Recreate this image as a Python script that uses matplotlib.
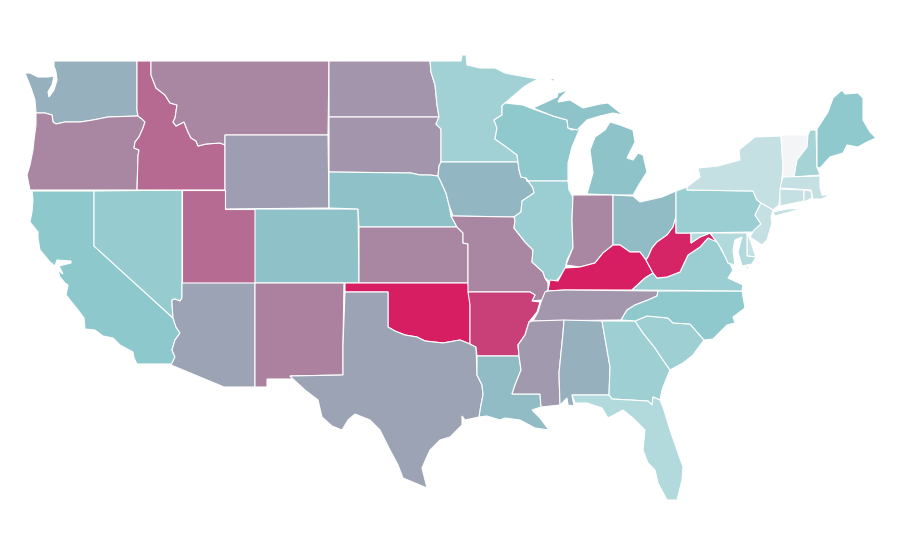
import matplotlib
matplotlib.use("Agg")
import matplotlib.pyplot as plt
from matplotlib.colors import LinearSegmentedColormap, Normalize
from matplotlib.patches import Polygon

# state index
states = ["WA", "OR", "CA", "NV", "ID", "MT", "WY", "UT", "CO", "AZ", "NM", "ND", "SD", "NE", "KS",
          "OK", "TX", "MN", "IA", "MO", "AR", "LA", "WI", "IL", "MI", "IN", "OH", "KY", "TN", "MS",
          "AL", "GA", "FL", "SC", "NC", "VA", "WV", "PA", "NY", "VT", "NH", "ME", "MA", "CT", "RI",
          "NJ", "DE", "MD"]
values = [40, 57, 30, 27, 69, 57, 48, 68, 33, 45, 59, 51, 51, 33, 57,
          100, 45, 24, 37, 57, 86, 35, 29, 26, 32, 57, 35, 100, 50, 49,
          40, 25, 19, 25, 29, 26, 97, 26, 14, 0, 23, 29, 14, 14, 14,
          14, 14, 19]

outlines = {
    "WA": [[(54, 61), (137, 61), (137, 110), (138, 116), (108, 117), (93, 120), (80, 122), (65, 122), (56, 124),
            (53, 122), (52, 115), (45, 113), (36, 113), (35, 100), (31, 88), (25, 73), (30, 73), (38, 77), (48, 77),
            (54, 76), (52, 85), (48, 92), (49, 97), (54, 90), (57, 80), (56, 72), (54, 66)]],
    "OR": [[(36, 113), (45, 113), (52, 115), (53, 122), (56, 124), (65, 122), (80, 122), (93, 120), (108, 117),
            (138, 116), (142, 119), (145, 122), (143, 128), (139, 137), (135, 142), (134, 148), (139, 150), (138, 156),
            (137, 190), (30, 190), (29, 185), (27, 175), (30, 165), (33, 150), (34, 140), (36, 125)]],
    "CA": [[(32, 191), (94, 191), (94, 246), (173, 318), (176, 327), (180, 333), (175, 340), (172, 350), (175, 357),
            (172, 364), (137, 364), (134, 358), (133, 352), (120, 345), (113, 338), (103, 336), (95, 330), (85, 329),
            (84, 318), (78, 310), (66, 295), (68, 285), (65, 283), (60, 277), (58, 270), (63, 274), (59, 266), (71, 263),
            (71, 261), (57, 260), (55, 266), (50, 262), (40, 250), (38, 238), (38, 232), (30, 222), (32, 212), (33, 200)]],
    "NV": [[(94, 191), (182, 190), (182, 298), (180, 301), (175, 299), (172, 300), (172, 303), (173, 318), (94, 246)]],
    "ID": [[(137, 61), (151, 61), (151, 75), (156, 88), (165, 95), (170, 103), (177, 105), (175, 118), (173, 122),
            (176, 126), (184, 122), (188, 132), (191, 138), (196, 141), (198, 146), (206, 144), (220, 143), (225, 145),
            (225, 190), (137, 190), (138, 156), (139, 150), (134, 148), (135, 142), (139, 137), (143, 128), (145, 122),
            (142, 119), (138, 116), (137, 110)]],
    "MT": [[(151, 61), (329, 61), (328, 135), (225, 135), (225, 145), (220, 143), (206, 144), (198, 146), (196, 141),
            (191, 138), (188, 132), (184, 122), (176, 126), (173, 122), (175, 118), (177, 105), (170, 103), (165, 95),
            (156, 88), (151, 75)]],
    "WY": [[(225, 135), (328, 135), (329, 208), (225, 209)]],
    "UT": [[(182, 190), (225, 190), (225, 209), (255, 209), (255, 283), (182, 283)]],
    "CO": [[(255, 209), (358, 209), (359, 283), (255, 283)]],
    "AZ": [[(182, 283), (255, 283), (255, 387), (224, 387), (171, 365), (175, 357), (172, 350), (175, 340), (180, 333),
            (176, 327), (173, 318), (172, 303), (172, 300), (175, 299), (180, 301), (182, 298)]],
    "NM": [[(255, 283), (344, 283), (343, 345), (343, 375), (290, 376), (293, 379), (267, 379), (267, 387), (255, 387)]],
    "ND": [[(329, 61), (430, 61), (431, 72), (435, 85), (437, 105), (439, 117), (329, 117)]],
    "SD": [[(329, 117), (439, 117), (436, 124), (441, 129), (441, 162), (439, 166), (438, 176), (430, 175), (420, 175),
            (411, 173), (329, 172)]],
    "NE": [[(329, 172), (411, 173), (420, 175), (430, 175), (438, 176), (441, 182), (446, 193), (449, 205), (451, 216),
            (457, 227), (359, 227), (358, 209), (329, 208)]],
    "KS": [[(359, 227), (457, 227), (463, 233), (463, 243), (468, 244), (468, 283), (359, 283)]],
    "OK": [[(345, 283), (468, 283), (470, 300), (470, 344), (460, 340), (443, 343), (425, 341), (417, 337), (405, 335),
            (395, 331), (388, 327), (388, 292), (345, 292)]],
    "TX": [[(345, 292), (388, 292), (388, 327), (395, 331), (405, 335), (417, 337), (425, 341), (443, 343), (460, 340),
            (470, 344), (476, 347), (477, 375), (482, 385), (483, 395), (481, 405), (479, 417), (465, 420), (462, 416),
            (462, 425), (450, 437), (440, 440), (430, 450), (425, 461), (422, 468), (427, 488), (415, 483), (403, 478),
            (398, 465), (390, 450), (380, 430), (370, 420), (355, 414), (348, 420), (342, 430), (332, 426), (322, 417),
            (318, 400), (305, 390), (292, 378), (290, 376), (343, 375), (343, 345)]],
    "MN": [[(430, 61), (461, 61), (462, 55), (466, 55), (467, 65), (480, 68), (495, 68), (505, 73), (515, 75), (538, 79),
            (525, 86), (505, 103), (502, 106), (502, 115), (494, 120), (497, 128), (495, 139), (505, 146), (517, 155),
            (518, 162), (441, 162), (441, 129), (436, 124), (439, 117), (437, 105), (435, 85), (431, 72)]],
    "IA": [[(441, 162), (518, 162), (519, 170), (521, 177), (526, 178), (533, 188), (534, 193), (522, 201), (521, 212),
            (514, 217), (453, 216), (449, 205), (446, 193), (441, 182), (438, 176), (439, 166)]],
    "MO": [[(453, 216), (514, 217), (515, 220), (514, 228), (525, 242), (533, 250), (532, 262), (543, 272), (545, 278),
            (548, 283), (548, 289), (542, 300), (532, 301), (535, 295), (530, 292), (468, 292), (468, 244), (463, 243),
            (463, 233), (457, 227), (451, 216)]],
    "AR": [[(468, 292), (530, 292), (535, 295), (532, 301), (540, 302), (537, 312), (529, 322), (525, 335), (518, 345),
            (519, 356), (477, 356), (476, 347), (470, 344), (470, 305)]],
    "LA": [[(477, 356), (519, 356), (521, 370), (515, 385), (512, 394), (540, 394), (541, 407), (532, 410), (540, 418),
            (549, 430), (535, 428), (520, 420), (505, 418), (500, 420), (487, 416), (479, 417), (481, 405), (483, 395),
            (482, 385), (477, 375)]],
    "WI": [[(502, 106), (505, 103), (523, 105), (533, 109), (553, 116), (567, 120), (568, 128), (572, 130), (580, 128),
            (572, 147), (568, 163), (568, 181), (527, 181), (526, 178), (521, 177), (519, 170), (518, 162), (517, 155),
            (505, 146), (495, 139), (497, 128), (494, 120), (502, 115)]],
    "IL": [[(527, 181), (568, 181), (569, 190), (573, 197), (572, 220), (573, 248), (567, 260), (565, 270), (557, 280),
            (550, 282), (545, 278), (543, 272), (532, 262), (533, 250), (525, 242), (514, 228), (515, 220), (514, 217),
            (521, 212), (522, 201), (534, 193), (533, 188), (526, 178)]],
    "MI": [[(533, 108), (557, 97), (558, 93), (568, 90), (560, 98), (558, 102), (570, 100), (583, 108), (600, 104),
            (608, 103), (623, 115), (613, 113), (600, 116), (587, 120), (577, 130), (568, 128), (567, 120), (553, 116)],
           [(610, 122), (620, 125), (633, 130), (635, 142), (627, 158), (633, 160), (638, 153), (643, 155), (647, 172),
            (640, 183), (633, 195), (613, 195), (587, 194), (593, 173), (590, 150), (595, 137), (605, 130)],
           [(548, 80), (556, 78), (553, 81)]],
    "IN": [[(573, 195), (613, 195), (613, 245), (603, 253), (595, 263), (580, 267), (566, 265), (572, 250), (573, 248),
            (572, 220)]],
    "OH": [[(613, 195), (633, 196), (640, 202), (662, 197), (676, 191), (676, 217), (673, 227), (667, 235), (657, 242),
            (652, 248), (648, 257), (646, 260), (640, 252), (630, 252), (620, 245), (613, 245)]],
    "KY": [[(548, 291), (565, 290), (632, 290), (645, 278), (653, 273), (646, 260), (640, 252), (630, 252), (620, 245),
            (613, 245), (603, 253), (595, 263), (580, 267), (565, 268), (558, 281), (550, 280)]],
    "TN": [[(548, 291), (565, 290), (658, 291), (657, 296), (648, 300), (635, 305), (627, 310), (621, 320), (533, 321),
            (538, 312), (541, 302), (545, 292)]],
    "MS": [[(533, 321), (564, 320), (563, 333), (559, 373), (560, 405), (541, 407), (540, 394), (512, 394), (515, 385),
            (521, 370), (519, 356), (518, 345), (525, 335), (529, 322)]],
    "AL": [[(564, 320), (602, 321), (610, 367), (609, 395), (572, 395), (574, 406), (568, 405), (567, 398), (560, 405),
            (559, 373), (563, 333)]],
    "GA": [[(602, 321), (635, 321), (643, 333), (655, 348), (663, 360), (670, 370), (667, 377), (662, 390), (660, 400),
            (653, 397), (652, 405), (648, 401), (612, 399), (609, 395), (610, 367)]],
    "FL": [[(572, 395), (609, 395), (612, 399), (648, 401), (652, 405), (653, 397), (660, 400), (663, 407), (670, 430),
            (677, 450), (683, 467), (682, 480), (677, 500), (667, 500), (658, 483), (655, 470), (648, 463), (643, 450),
            (645, 430), (633, 418), (623, 410), (608, 418), (602, 408), (587, 403), (575, 403)]],
    "SC": [[(635, 321), (647, 316), (668, 318), (673, 323), (690, 324), (704, 340), (693, 355), (683, 363), (670, 370),
            (663, 360), (655, 348), (643, 333)]],
    "NC": [[(658, 291), (742, 291), (745, 308), (733, 317), (735, 323), (727, 325), (713, 339), (704, 340), (690, 324),
            (673, 323), (668, 318), (647, 316), (635, 321), (621, 320), (627, 310), (635, 305), (648, 300), (657, 296)]],
    "VA": [[(632, 290), (645, 278), (653, 273), (657, 278), (667, 277), (680, 272), (688, 255), (700, 247), (708, 238),
            (717, 241), (723, 253), (729, 262), (733, 270), (728, 278), (743, 285), (742, 291)],
           [(750, 265), (747, 267), (743, 278)]],
    "WV": [[(646, 260), (648, 257), (652, 248), (657, 242), (667, 235), (673, 227), (676, 217), (676, 233), (691, 233),
            (691, 243), (700, 237), (710, 233), (717, 242), (708, 238), (700, 247), (688, 255), (680, 272), (667, 277),
            (657, 278), (653, 273)]],
    "PA": [[(676, 191), (687, 187), (687, 190), (753, 191), (757, 200), (761, 203), (755, 215), (761, 224), (755, 232),
            (691, 233), (676, 233)]],
    "NY": [[(687, 187), (700, 177), (698, 168), (718, 166), (740, 160), (739, 150), (755, 137), (781, 136), (783, 167),
            (782, 177), (779, 205), (773, 210), (761, 203), (757, 200), (753, 191), (687, 190)],
           [(773, 212), (787, 209), (802, 208), (790, 212), (775, 216)]],
    "VT": [[(781, 135), (808, 135), (807, 147), (797, 160), (794, 177), (783, 177), (783, 167)]],
    "NH": [[(810, 130), (816, 130), (817, 167), (820, 175), (794, 177), (797, 160), (807, 147), (808, 135)]],
    "ME": [[(817, 129), (828, 112), (833, 98), (842, 90), (845, 94), (858, 93), (863, 98), (863, 120), (870, 132),
            (876, 138), (867, 142), (858, 147), (847, 145), (843, 153), (830, 157), (820, 168), (817, 167)]],
    "MA": [[(783, 177), (820, 176), (820, 187), (822, 195), (830, 195), (822, 199), (813, 199), (811, 190), (780, 188)]],
    "CT": [[(780, 189), (804, 190), (804, 201), (780, 206)]],
    "RI": [[(804, 190), (811, 191), (812, 198), (804, 202)]],
    "NJ": [[(761, 203), (773, 210), (771, 217), (772, 223), (767, 240), (762, 245), (750, 237), (754, 230), (761, 224),
            (755, 215)]],
    "DE": [[(747, 233), (749, 237), (756, 257), (747, 256)]],
    "MD": [[(691, 233), (747, 233), (747, 256), (756, 257), (752, 264), (742, 266), (738, 252), (742, 237), (735, 240),
            (733, 250), (735, 265), (728, 263), (722, 250), (717, 242), (710, 233), (700, 237), (691, 243)]],
}

cmap = LinearSegmentedColormap.from_list(
    "teal_crimson", [(0.0, "#f3f5f6"), (0.3, "#8cc8cc"), (1.0, "#d81e62")]
)
norm = Normalize(vmin=0, vmax=100)

fig = plt.figure(figsize=(9, 5.6), dpi=100)
ax = fig.add_axes([0, 0, 1, 1])

for state, value in zip(states, values):
    for ring in outlines[state]:
        ax.add_patch(Polygon(ring, closed=True, facecolor=cmap(norm(value)), edgecolor="white", linewidth=0.8))

ax.set_xlim(0, 900)
ax.set_ylim(560, 0)
ax.axis("off")

fig.savefig("out.png", dpi=100, facecolor="white")
